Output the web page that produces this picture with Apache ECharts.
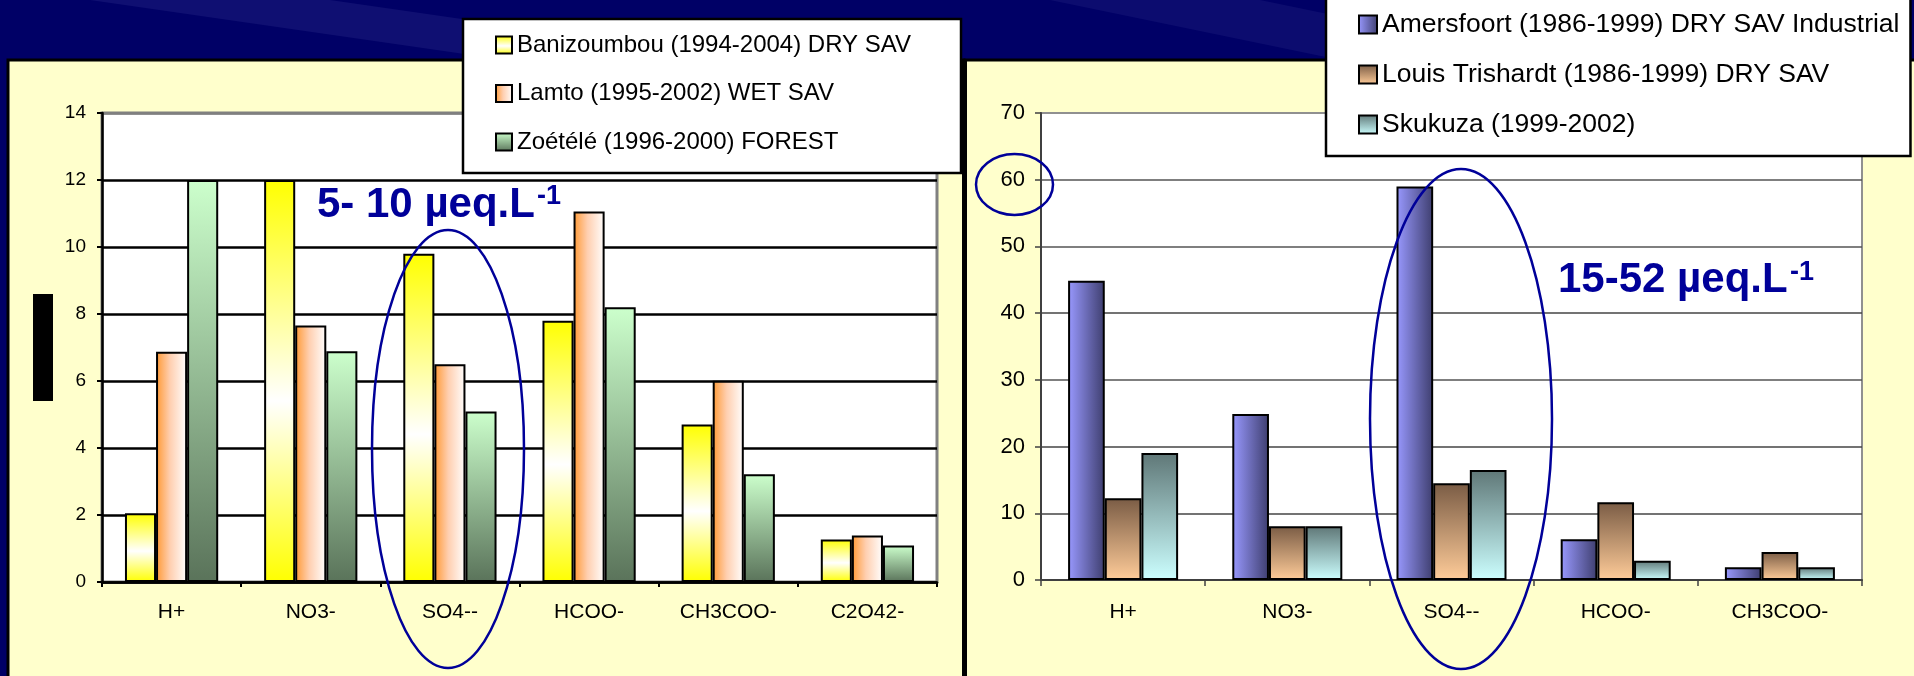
<!DOCTYPE html>
<html>
<head>
<meta charset="utf-8">
<script src="https://cdn.jsdelivr.net/npm/echarts@6/dist/echarts.min.js"></script>
<style>
html,body{margin:0;padding:0;background:#000066;}
#chart{width:1914px;height:676px;}
</style>
</head>
<body>
<div id="chart"></div>
<script>
// ---- data ----
const leftCategories = ['H+', 'NO3-', 'SO4--', 'HCOO-', 'CH3COO-', 'C2O42-'];
const banizoumbou = [2.05, 12.0, 9.8, 7.8, 4.7, 1.27];
const lamto = [6.87, 7.66, 6.5, 11.06, 6.01, 1.39];
const zoetele = [12.0, 6.89, 5.09, 8.2, 3.22, 1.09];

const rightCategories = ['H+', 'NO3-', 'SO4--', 'HCOO-', 'CH3COO-'];
const amersfoort = [44.85, 24.9, 59.0, 6.1, 1.9];
const louisTrichardt = [12.25, 8.05, 14.5, 11.65, 4.2];
const skukuza = [19.05, 8.05, 16.5, 2.9, 1.9];

const leftNames = ['Banizoumbou (1994-2004) DRY SAV', 'Lamto (1995-2002) WET SAV', 'Zoétélé (1996-2000) FOREST'];
const rightNames = ['Amersfoort (1986-1999) DRY SAV Industrial', 'Louis Trishardt (1986-1999) DRY SAV', 'Skukuza (1999-2002)'];
const leftTicks = {min: 0, max: 14, interval: 2};
const rightTicks = {min: 0, max: 70, interval: 10};

const FONT = '"Liberation Sans", Arial, sans-serif';
const LG = echarts.graphic.LinearGradient;

const styles = {
  ban: new LG(0, 0, 0, 1, [{offset: 0, color: '#FFFF00'}, {offset: 0.55, color: '#FFFFFF'}, {offset: 1, color: '#FFFF00'}]),
  lam: new LG(0, 0, 1, 0, [{offset: 0, color: '#FF9933'}, {offset: 0.45, color: '#FFCFB0'}, {offset: 1, color: '#FFFFFF'}]),
  zoe: new LG(0, 0, 0, 1, [{offset: 0, color: '#CCFFCC'}, {offset: 1, color: '#5A735A'}]),
  ame: new LG(0, 0, 1, 0, [{offset: 0, color: '#9999FF'}, {offset: 1, color: '#3E3E6E'}]),
  lou: new LG(0, 0, 0, 1, [{offset: 0, color: '#7A5C45'}, {offset: 1, color: '#FFCC99'}]),
  sku: new LG(0, 0, 0, 1, [{offset: 0, color: '#5F7777'}, {offset: 1, color: '#CCFFFF'}])
};

function bar(name, data, color, idx) {
  return {
    type: 'bar', name: name, data: data,
    xAxisIndex: idx, yAxisIndex: idx,
    barGap: '0%', barCategoryGap: '33%',
    itemStyle: {color: color, borderColor: '#000', borderWidth: 2},
    emphasis: {disabled: true},
    z: 3
  };
}

const chart = echarts.init(document.getElementById('chart'), null, {renderer: 'canvas'});

const option = {
  animation: false,
  backgroundColor: '#000066',
  textStyle: {fontFamily: FONT},
  graphic: [
    // background streaks
    {type: 'polygon', z: -120, shape: {points: [[90, 0], [330, 0], [760, 62], [520, 62]]}, style: {fill: 'rgba(60,60,150,0.25)'}},
    {type: 'polygon', z: -120, shape: {points: [[1050, 0], [1260, 0], [1560, 62], [1350, 62]]}, style: {fill: 'rgba(60,60,150,0.2)'}},
    // panels
    {type: 'rect', z: -110, shape: {x: 8, y: 60, width: 956, height: 620}, style: {fill: '#FFFFCC', stroke: '#000', lineWidth: 3}},
    {type: 'rect', z: -110, shape: {x: 965, y: 60, width: 952, height: 620}, style: {fill: '#FFFFCC', stroke: '#000', lineWidth: 3}},
    {type: 'rect', z: -105, shape: {x: 962, y: 60, width: 5, height: 616}, style: {fill: '#000'}},
    // black artifact on left
    {type: 'rect', z: 50, shape: {x: 33, y: 294, width: 20, height: 107}, style: {fill: '#000'}},
    // annotations
    {type: 'ellipse', z: 100, shape: {cx: 448, cy: 449, rx: 76, ry: 219}, style: {fill: 'none', stroke: '#000099', lineWidth: 2.5}},
    {type: 'ellipse', z: 100, shape: {cx: 1461, cy: 419, rx: 91, ry: 250}, style: {fill: 'none', stroke: '#000099', lineWidth: 2.5}},
    {type: 'ellipse', z: 100, shape: {cx: 1014.5, cy: 184.5, rx: 38.5, ry: 30.5}, style: {fill: 'none', stroke: '#000099', lineWidth: 2.5}},
    {type: 'text', z: 100, style: {text: '5- 10 µeq.L', x: 317, y: 205, fill: '#000099', font: 'bold 42px ' + FONT, align: 'left', verticalAlign: 'middle'}},
    {type: 'text', z: 100, style: {text: '-1', x: 537, y: 197, fill: '#000099', font: 'bold 27px ' + FONT, align: 'left', verticalAlign: 'middle'}},
    {type: 'text', z: 100, style: {text: '15-52 µeq.L', x: 1558, y: 280.5, fill: '#000099', font: 'bold 42px ' + FONT, align: 'left', verticalAlign: 'middle'}},
    {type: 'text', z: 100, style: {text: '-1', x: 1790, y: 273, fill: '#000099', font: 'bold 27px ' + FONT, align: 'left', verticalAlign: 'middle'}}
  ],
  legend: [
    {
      data: leftNames, orient: 'vertical', left: 463, top: 19, icon: 'rect',
      padding: [14, 50, 19, 32], itemGap: 24.5, itemWidth: 16, itemHeight: 17,
      backgroundColor: '#fff', borderColor: '#000', borderWidth: 2.5,
      itemStyle: {borderColor: '#000', borderWidth: 2},
      textStyle: {fontSize: 24, color: '#000', fontFamily: FONT},
      selectedMode: false, z: 20
    },
    {
      data: rightNames, orient: 'vertical', left: 1326, top: -3, icon: 'rect',
      padding: [14, 11, 18, 32], itemGap: 23, itemWidth: 18, itemHeight: 18,
      backgroundColor: '#fff', borderColor: '#000', borderWidth: 2.5,
      itemStyle: {borderColor: '#000', borderWidth: 2},
      textStyle: {fontSize: 26.5, color: '#000', fontFamily: FONT},
      selectedMode: false, z: 20
    }
  ],
  grid: [
    {left: 102, top: 113, width: 835, height: 469, show: true, backgroundColor: '#fff', borderColor: '#808080', borderWidth: 3},
    {left: 1041, top: 113, width: 821, height: 467, show: true, backgroundColor: '#fff', borderColor: '#909090', borderWidth: 2}
  ],
  xAxis: [
    {
      type: 'category', gridIndex: 0, data: leftCategories,
      axisLine: {lineStyle: {color: '#000', width: 2.5}},
      axisTick: {show: true, length: 5, lineStyle: {color: '#000', width: 2}},
      axisLabel: {fontSize: 21, color: '#000', margin: 20, fontFamily: FONT}
    },
    {
      type: 'category', gridIndex: 1, data: rightCategories,
      axisLine: {lineStyle: {color: '#404040', width: 2}},
      axisTick: {show: true, length: 6, lineStyle: {color: '#404040', width: 1.5}},
      axisLabel: {fontSize: 21, color: '#000', margin: 22, fontFamily: FONT}
    }
  ],
  yAxis: [
    {
      type: 'value', gridIndex: 0, min: leftTicks.min, max: leftTicks.max, interval: leftTicks.interval,
      axisLine: {show: true, lineStyle: {color: '#000', width: 2.5}},
      axisTick: {show: true, length: 5, lineStyle: {color: '#000', width: 2}},
      axisLabel: {fontSize: 19, color: '#000', margin: 16, fontFamily: FONT},
      splitLine: {show: true, lineStyle: {color: ['#000', '#000', '#000', '#000', '#000', '#000', '#000', '#808080'], width: 2.5}}
    },
    {
      type: 'value', gridIndex: 1, min: rightTicks.min, max: rightTicks.max, interval: rightTicks.interval,
      axisLine: {show: true, lineStyle: {color: '#404040', width: 2}},
      axisTick: {show: true, length: 6, lineStyle: {color: '#404040', width: 1.5}},
      axisLabel: {fontSize: 22, color: '#000', margin: 16, fontFamily: FONT},
      splitLine: {show: true, lineStyle: {color: ['#333', '#444', '#444', '#555', '#444', '#555', '#555', '#909090'], width: 1.5}}
    }
  ],
  series: [
    bar(leftNames[0], banizoumbou, styles.ban, 0),
    bar(leftNames[1], lamto, styles.lam, 0),
    bar(leftNames[2], zoetele, styles.zoe, 0),
    bar(rightNames[0], amersfoort, styles.ame, 1),
    bar(rightNames[1], louisTrichardt, styles.lou, 1),
    bar(rightNames[2], skukuza, styles.sku, 1)
  ]
};
chart.setOption(option);
</script>
</body>
</html>
